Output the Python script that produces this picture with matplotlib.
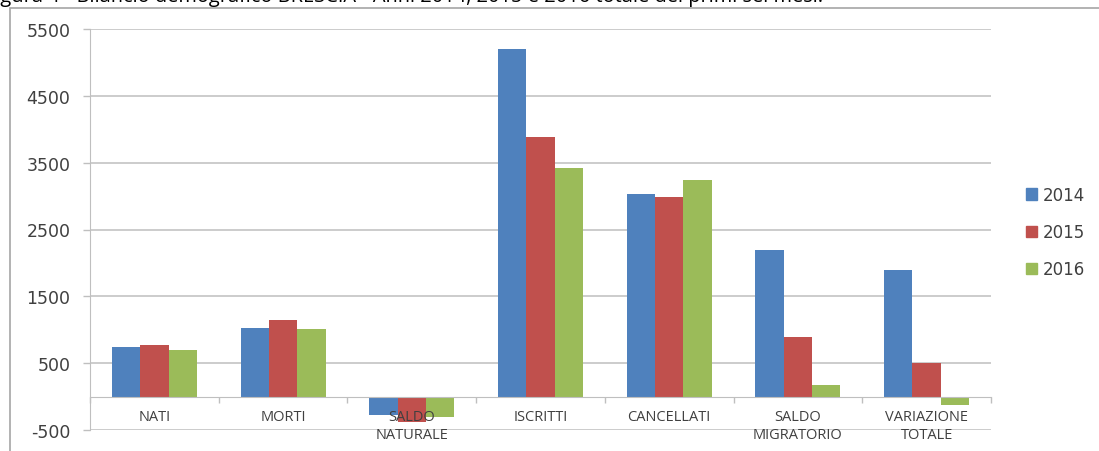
import numpy as np
import matplotlib.pyplot as plt
from matplotlib.patches import Rectangle, Patch

# Categories and yearly values (first six months)
categories = ["NATI", "MORTI", "SALDO\nNATURALE", "ISCRITTI", "CANCELLATI",
              "SALDO\nMIGRATORIO", "VARIAZIONE\nTOTALE"]
years = ["2014", "2015", "2016"]
v2014 = [748, 1030, -270, 5195, 3024, 2186, 1900]
v2015 = [778, 1150, -375, 3877, 2979, 898, 509]
v2016 = [703, 1018, -300, 3413, 3234, 180, -120]
yticks = [-500, 500, 1500, 2500, 3500, 4500, 5500]
colors = ["#4F81BD", "#C0504D", "#9BBB59"]

plt.rcParams['font.family'] = ['DejaVu Sans']
plt.rcParams['axes.unicode_minus'] = False

fig = plt.figure(figsize=(10.99, 4.52), dpi=100)
ax = fig.add_axes([90/1099, 1 - 431/452, (991 - 90)/1099, (431 - 30)/452])

x = np.arange(len(categories))
w = 0.22
for i, (vals, c) in enumerate(zip([v2014, v2015, v2016], colors)):
    ax.bar(x + (i - 1) * w, vals, w, color=c, label=years[i], zorder=2)

ax.set_xlim(-0.5, len(categories) - 0.5)
ax.set_ylim(-500, 5500)
ax.set_yticks(yticks)
ax.tick_params(axis='y', length=5, width=1, color='#bfbfbf', pad=9,
               labelsize=12.5, labelcolor='#404040')
ax.yaxis.grid(True, color='#c8c8c8', linewidth=1.3)
ax.yaxis.set_zorder(0.5)
ax.xaxis.set_zorder(4)

# category axis on the zero line
ax.spines['bottom'].set_position(('data', 0))
ax.spines['bottom'].set_color('#bfbfbf')
ax.spines['bottom'].set_zorder(4)
ax.spines['left'].set_color('#bfbfbf')
ax.spines['top'].set_visible(False)
ax.spines['right'].set_visible(False)
ax.set_xticks(x)
ax.set_xticklabels(categories, fontsize=10.5, color='#404040', linespacing=1.25,
                   fontfamily='Open Sans')
ax.tick_params(axis='x', length=0, pad=9)
ax.set_xticks(np.arange(-0.5, len(categories)), minor=True)
ax.tick_params(axis='x', which='minor', length=4, color='#bfbfbf', width=1)

handles = [Patch(color=c) for c in colors]
fig.legend(handles, years, loc='center left', bbox_to_anchor=(1011/1099, 1 - 233/452),
           frameon=False, prop={'family': 'DejaVu Sans', 'size': 12},
           handlelength=0.65, handleheight=0.65, handletextpad=0.35,
           labelspacing=1.15, labelcolor='#404040')

# outer chart frame
fig.patches.append(Rectangle((10/1099, -0.1), 1.2, 1.1 - 9/452, transform=fig.transFigure,
                             fill=False, edgecolor='#a6a6a6', linewidth=1.2))

# caption cut at the top edge
fig.text(-0.014, 1 - 2/452, "Figura 4 - Bilancio demografico BRESCIA - Anni 2014, 2015 e 2016 totale dei primi sei mesi.",
         fontsize=14.4, va='baseline', ha='left', color='black', fontfamily='Open Sans')

fig.savefig("out.png", dpi=100)
